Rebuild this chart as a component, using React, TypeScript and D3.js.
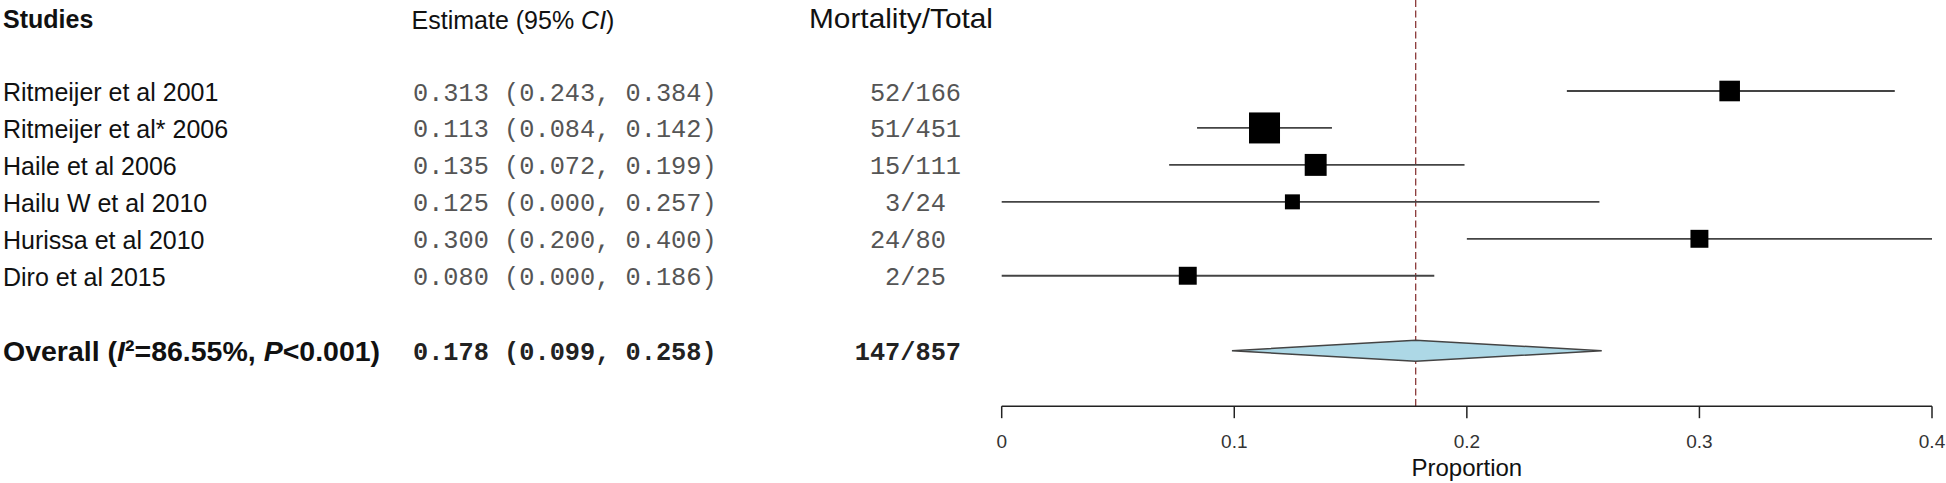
import React from 'react';
import * as d3 from 'd3';

const studies = [
  'Ritmeijer et al 2001',
  'Ritmeijer et al* 2006',
  'Haile et al 2006',
  'Hailu W et al 2010',
  'Hurissa et al 2010',
  'Diro et al 2015',
];
const estimates = [0.313, 0.113, 0.135, 0.125, 0.3, 0.08];
const lowerCI = [0.243, 0.084, 0.072, 0.0, 0.2, 0.0];
const upperCI = [0.384, 0.142, 0.199, 0.257, 0.4, 0.186];
const deaths = [52, 51, 15, 3, 24, 2];
const totals = [166, 451, 111, 24, 80, 25];
// relative study weights
const weights = [16.3, 20.2, 16.8, 14.2, 15.3, 15.3];

const overallEstimate = 0.178;
const overallLower = 0.099;
const overallUpper = 0.258;
const overallDeaths = 147;
const overallTotal = 857;

const xTicks = [0, 0.1, 0.2, 0.3, 0.4];
const xTickLabels = ['0', '0.1', '0.2', '0.3', '0.4'];

const SANS = '"Liberation Sans", Arial, sans-serif';
const MONO = '"Liberation Mono", "Courier New", monospace';
const NB = '\u00A0';

export default function App() {
  const W = 1946;
  const H = 483;
  const x = d3.scaleLinear().domain([0, 0.4]).range([1001.7, 1932]);
  const y = d3.scaleLinear().domain([0, 5]).range([91, 275.75]);
  const size = d3
    .scaleLinear()
    .domain([d3.min(weights) as number, d3.max(weights) as number])
    .range([15, 31]);

  const overallY = y(7.03);
  const axisY = y(8.53);

  const fmt = (v: number) => v.toFixed(3);
  const mort = (d: number, t: number) =>
    String(d).padStart(2, NB) + '/' + String(t).padEnd(3, NB);

  const diamond = [
    [x(overallLower), overallY],
    [x(overallEstimate), overallY - 10.5],
    [x(overallUpper), overallY],
    [x(overallEstimate), overallY + 10.5],
  ];
  const line = d3.line();

  return (
    <svg
      width={W}
      height={H}
      style={{ position: 'absolute', left: 0, top: 0, background: '#fff' }}
    >
      {/* headers */}
      <text x={3} y={28} fontFamily={SANS} fontWeight="bold" fontSize={25} fill="#111">
        Studies
      </text>
      <text x={513} y={28.5} fontFamily={SANS} fontSize={25} fill="#111" textAnchor="middle">
        Estimate (95% <tspan fontStyle="italic">CI</tspan>)
      </text>
      <text
        x={809}
        y={27.5}
        fontFamily={SANS}
        fontSize={28.5}
        fill="#111"
        textLength={184}
        lengthAdjust="spacingAndGlyphs"
      >
        Mortality/Total
      </text>

      {/* reference line */}
      <line
        x1={x(overallEstimate)}
        x2={x(overallEstimate)}
        y1={0}
        y2={axisY}
        stroke="#8B3A3A"
        strokeWidth={1.3}
        strokeDasharray="7,3.5"
      />

      {/* study rows */}
      {studies.map((s, i) => {
        const yy = y(i);
        const sz = size(weights[i]);
        return (
          <g key={s}>
            <text x={3} y={yy + 10} fontFamily={SANS} fontSize={25} fill="#111">
              {s}
            </text>
            <text x={413} y={yy + 9.5} fontFamily={MONO} fontSize={25.3} fill="#555">
              {`${fmt(estimates[i])} (${fmt(lowerCI[i])}, ${fmt(upperCI[i])})`}
            </text>
            <text
              x={961}
              y={yy + 9.5}
              fontFamily={MONO}
              fontSize={25.3}
              fill="#555"
              textAnchor="end"
            >
              {mort(deaths[i], totals[i])}
            </text>
            <line
              x1={x(lowerCI[i])}
              x2={x(upperCI[i])}
              y1={yy}
              y2={yy}
              stroke="#444"
              strokeWidth={1.8}
            />
            <rect
              x={x(estimates[i]) - sz / 2}
              y={yy - sz / 2}
              width={sz}
              height={sz}
              fill="#000"
            />
          </g>
        );
      })}

      {/* overall row */}
      <text x={3} y={overallY + 10.5} fontFamily={SANS} fontWeight="bold" fontSize={28.5} fill="#111">
        Overall (<tspan fontStyle="italic">I</tspan>
        <tspan>²</tspan>=86.55%, <tspan fontStyle="italic">P</tspan>&lt;0.001)
      </text>
      <text
        x={413}
        y={overallY + 9.5}
        fontFamily={MONO}
        fontWeight="bold"
        fontSize={25.3}
        fill="#222"
      >
        {`${fmt(overallEstimate)} (${fmt(overallLower)}, ${fmt(overallUpper)})`}
      </text>
      <text
        x={961}
        y={overallY + 9.5}
        fontFamily={MONO}
        fontWeight="bold"
        fontSize={25.3}
        fill="#222"
        textAnchor="end"
      >
        {mort(overallDeaths, overallTotal)}
      </text>
      <path
        d={line(diamond as [number, number][]) + 'Z'}
        fill="lightblue"
        stroke="#444"
        strokeWidth={1.5}
      />

      {/* axis */}
      <line x1={x(0)} x2={x(0.4)} y1={axisY} y2={axisY} stroke="#222" strokeWidth={1.5} />
      {xTicks.map((t, i) => (
        <g key={t}>
          <line x1={x(t)} x2={x(t)} y1={axisY} y2={axisY + 12} stroke="#222" strokeWidth={1.5} />
          <text
            x={x(t)}
            y={448}
            fontFamily={SANS}
            fontSize={19}
            fill="#333"
            textAnchor="middle"
          >
            {xTickLabels[i]}
          </text>
        </g>
      ))}
      <text x={x(0.2)} y={476} fontFamily={SANS} fontSize={24} fill="#111" textAnchor="middle">
        Proportion
      </text>
    </svg>
  );
}
